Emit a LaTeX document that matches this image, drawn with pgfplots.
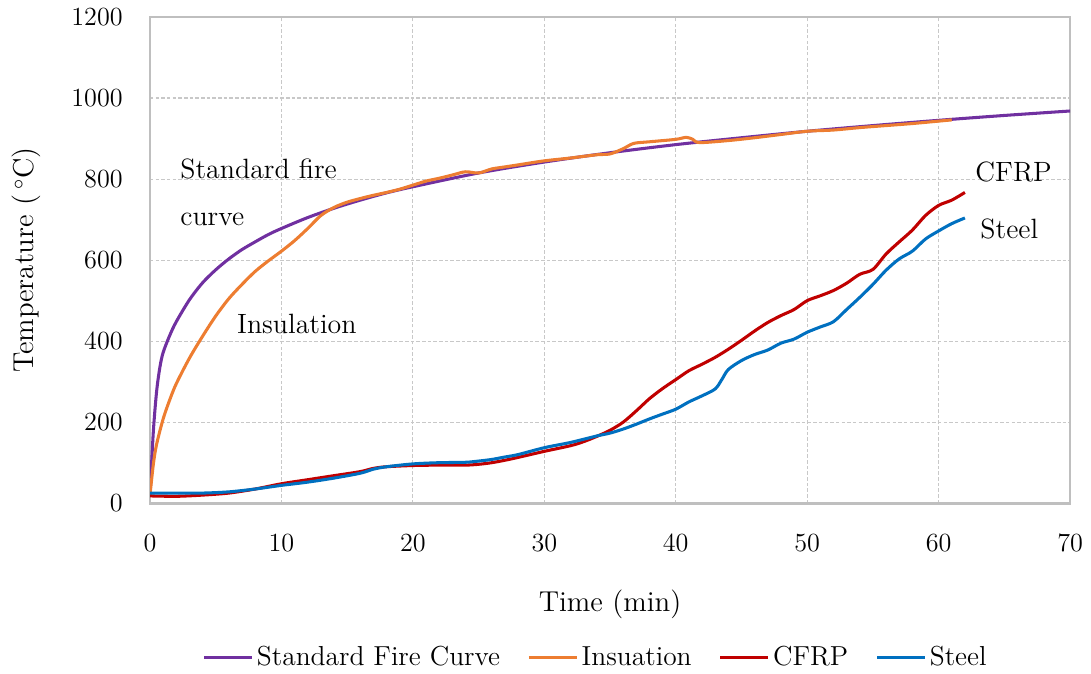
\documentclass[border=0pt]{standalone}
\usepackage{pgfplots}
\pgfplotsset{compat=1.18}
\definecolor{cPurple}{HTML}{7030A0}
\definecolor{cOrange}{HTML}{ED7D31}
\definecolor{cRed}{HTML}{C00000}
\definecolor{cBlue}{HTML}{0070C0}
\definecolor{cFrame}{HTML}{BFBFBF}
\definecolor{cGrid}{HTML}{C8C8C8}
\begin{document}
\begin{tikzpicture}[font=\fontsize{12.6}{15}\selectfont]
\begin{axis}[
  name=ax,
  scale only axis,
  width=422pt, height=223pt,
  xmin=0, xmax=70, ymin=0, ymax=1200,
  xtick={0,10,...,70}, ytick={0,200,...,1200},
  /pgf/number format/1000 sep={},
  major tick length=0pt,
  grid=major,
  major grid style={cGrid, dash pattern=on 1.6pt off 1pt, line width=0.5pt},
  axis line style={cFrame, line width=1.3pt},
  tick label style={font=\fontsize{12.4}{15}\selectfont},
  xticklabel style={yshift=-11pt},
  yticklabel style={xshift=-9pt},
  xlabel={Time (min)},
  ylabel={Temperature (\,$^{\circ}$C)},
  label style={font=\fontsize{13.2}{16}\selectfont},
  xlabel style={at={(axis description cs:0.5,-0.207)}, anchor=center},
  ylabel style={at={(axis description cs:-0.1348,0.5)}, anchor=center},
  legend columns=4,
  legend style={at={(0.485,-0.317)}, anchor=center, draw=none,
    font=\fontsize{12.6}{15}\selectfont,
    nodes={inner sep=1.5pt},
    /tikz/every even column/.append style={column sep=11pt}},
  legend image code/.code={\draw[#1, line width=1.4pt] (0pt,0pt) -- (22pt,0pt);},
  every axis plot/.append style={line width=1.4pt, line join=round},
]
\addplot[cPurple, smooth] coordinates {
(0,20) (0.25,175) (0.5,275) (0.75,335) (1,372) (1.5,414) (2,448) (3,502) (4,544) (5,576)
(6,603) (7,626) (8,645) (9,663) (10,678) (12,705) (14,728) (16,748) (18,766)
(20,781) (25,815) (30,842) (35,865) (40,885) (45,902) (50,918) (55,932)
(60,945) (65,957) (70,968)};
\addlegendentry{Standard Fire Curve}
\addplot[cOrange, smooth] coordinates {
(0,20) (0.25,95) (0.5,145) (1,208) (1.5,255) (2,295) (3,358) (4,412) (5,462)
(6,505) (7,540) (8,572) (9,598) (10,622) (11,648) (12,678) (13,710) (14,730)
(15,743) (16,752) (17,760) (18,767) (19,775) (20,785) (21,795) (22,802)
(23,810) (24,818) (25,815) (26,825) (27,830) (28,835) (30,845) (32,852)
(34,860) (35,862) (36,875) (36.8,888) (38,892) (40,898) (40.8,903) (41.3,898)
(41.8,890) (44,895) (46,902) (48,910) (50,918) (52,921) (54,927) (56,932)
(58,937) (60,943) (61,946)};
\addlegendentry{Insuation}
\addplot[cRed, smooth] coordinates {
(0,18) (2,17) (4,20) (6,25) (8,35) (10,48) (12,58) (14,68) (16,78) (17,86)
(18,90) (20,93) (22,94) (24,94) (25,96) (26,100) (27,106) (28,113) (30,128)
(32,142) (33,152) (34,165) (35,180) (36,200) (37,228) (38,258) (39,283)
(40,305) (41,327) (42,343) (43,360) (44,380) (45,402) (46,425) (47,446)
(48,463) (49,478) (50,500) (51,512) (52,525) (53,543) (54,565) (55,577)
(56,615) (57,645) (58,674) (59,710) (60,735) (61,748) (62,767)};
\addlegendentry{CFRP}
\addplot[cBlue, smooth] coordinates {
(0,25) (2,25) (4,25) (6,28) (8,35) (10,44) (12,52) (14,62) (16,74) (17,84)
(18,90) (20,97) (22,100) (24,101) (25,104) (26,108) (27,114) (28,120) (30,137)
(32,150) (34,166) (35,173) (36,183) (37,195) (38,208) (39,220) (40,232)
(41,250) (42,265) (43,282) (43.5,305) (44,330) (45,352) (46,367) (47,378)
(48,395) (49,405) (50,422) (51,435) (52,448) (53,478) (54,508) (55,540)
(56,575) (57,603) (58,622) (59,652) (60,672) (61,690) (62,704)};
\addlegendentry{Steel}
\node[anchor=base west, inner sep=0pt, font=\fontsize{12.8}{15}\selectfont] at (axis cs:2.28,802) {Standard fire};
\node[anchor=base west, inner sep=0pt, font=\fontsize{12.8}{15}\selectfont] at (axis cs:2.28,686) {curve};
\node[anchor=base west, inner sep=0pt, font=\fontsize{12.8}{15}\selectfont] at (axis cs:6.6,420) {Insulation};
\node[anchor=base west, inner sep=0pt, font=\fontsize{12.8}{15}\selectfont] at (axis cs:62.77,793) {CFRP};
\node[anchor=base west, inner sep=0pt, font=\fontsize{12.8}{15}\selectfont] at (axis cs:63.15,654) {Steel};
\end{axis}
\pgfresetboundingbox
\path[use as bounding box] ([shift={(-68.8pt,-78pt)}]ax.south west) rectangle ([shift={(9.6pt,7.8pt)}]ax.north east);
\end{tikzpicture}
\end{document}
